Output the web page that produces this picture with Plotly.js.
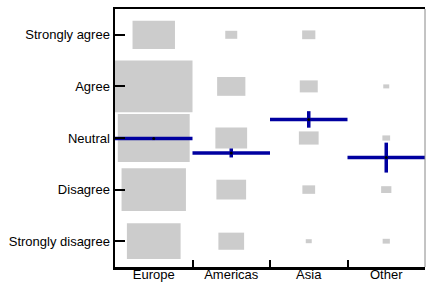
<!DOCTYPE html>
<html>
<head>
<meta charset="utf-8">
<script src="https://cdn.plot.ly/plotly-3.0.1.min.js"></script>
<style>html,body{margin:0;padding:0;background:#fff;}#chart{width:427px;height:284px;}</style>
</head>
<body>
<div id="chart"></div>
<script>
// Categories
var regions = ["Europe", "Americas", "Asia", "Other"];
var levels = [1, 2, 3, 4, 5];
var levelLabels = ["Strongly disagree", "Disagree", "Neutral", "Agree", "Strongly agree"];

// Response frequencies per region, ordered Strongly disagree .. Strongly agree
var europe   = [48, 69, 86, 100, 30];
var americas = [11, 14.7, 16.8, 13.3, 2.4];
var asia     = [0.6, 2.7, 6.5, 5.4, 2.9];
var other    = [0.87, 1.75, 1.0, 0.6, 0];

// Mean response and its error half-width per region
var means  = [2.99, 2.71, 3.36, 2.62];
var errors = [0.03, 0.087, 0.16, 0.29];

var counts = [europe, americas, asia, other];
var maxCount = 0;
counts.forEach(function (row) { row.forEach(function (v) { if (v > maxCount) maxCount = v; }); });

var shapes = [];
counts.forEach(function (row, i) {
  row.forEach(function (v, j) {
    if (v <= 0) return;
    var s = Math.sqrt(v / maxCount);
    shapes.push({
      type: "rect", xref: "x", yref: "y", layer: "below",
      x0: i - s / 2, x1: i + s / 2,
      y0: levels[j] - s / 2, y1: levels[j] + s / 2,
      fillcolor: "#cccccc", line: { width: 0 }
    });
  });
});
means.forEach(function (m, i) {
  shapes.push({
    type: "line", xref: "x", yref: "y", layer: "below",
    x0: i - 0.5, x1: i + 0.5, y0: m, y1: m,
    line: { color: "#0000a0", width: 3.5 }
  });
});
shapes.push({
  type: "line", xref: "paper", yref: "paper", x0: 1, x1: 1, y0: 0, y1: 1,
  line: { color: "#888888", width: 1 }
});

var trace = {
  type: "scatter", mode: "markers",
  x: regions, y: means,
  marker: { color: "black", size: 3 },
  error_y: { type: "data", array: errors, visible: true, color: "#0000a0", thickness: 3.5, width: 0 },
  hoverinfo: "skip", showlegend: false
};

var font = { family: "Liberation Sans, Arial, sans-serif", size: 13, color: "black" };

var layout = {
  width: 427, height: 284,
  margin: { l: 115, r: 2, t: 9, b: 17, pad: 0 },
  paper_bgcolor: "white", plot_bgcolor: "white",
  font: font,
  showlegend: false,
  xaxis: {
    type: "category", categoryorder: "array", categoryarray: regions,
    range: [-0.5, 3.5], tickson: "boundaries",
    ticks: "inside", ticklen: 7, tickwidth: 2, tickcolor: "black",
    showline: true, linecolor: "black", linewidth: 2.5, mirror: true,
    showgrid: false, zeroline: false, tickfont: font, ticklabelstandoff: -6
  },
  yaxis: {
    range: [0.5, 5.5], tickmode: "array", tickvals: levels, ticktext: levelLabels,
    ticks: "inside", ticklen: 10, tickwidth: 2, tickcolor: "black",
    showline: true, linecolor: "black", linewidth: 2.5,
    showgrid: false, zeroline: false, tickfont: font
  },
  shapes: shapes
};

Plotly.newPlot("chart", [trace], layout, { displayModeBar: false, staticPlot: true });
</script>
</body>
</html>
